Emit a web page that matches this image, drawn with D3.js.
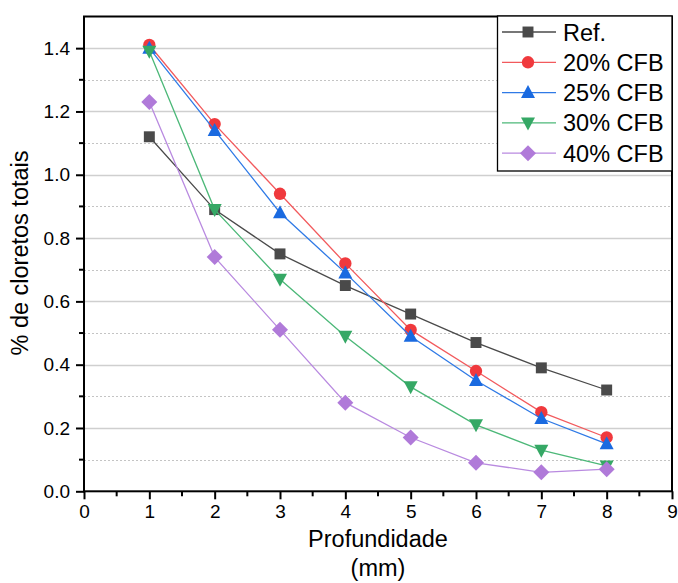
<!DOCTYPE html>
<html>
<head>
<meta charset="utf-8">
<script src="https://cdn.jsdelivr.net/npm/d3@7"></script>
<style>
  html, body { margin: 0; padding: 0; background: #fff; }
  svg text { font-family: "Liberation Sans", Arial, sans-serif; fill: #000; }
</style>
</head>
<body>
<svg id="chart" width="678" height="583"></svg>
<script>
// Depth (mm)
const depths = [1, 2, 3, 4, 5, 6, 7, 8];

// Total chloride content (%) per mix
const seriesNames = ["Ref.", "20% CFB", "25% CFB", "30% CFB", "40% CFB"];
const refValues   = [1.12, 0.89, 0.75, 0.65, 0.56, 0.47, 0.39, 0.32];
const cfb20Values = [1.41, 1.16, 0.94, 0.72, 0.51, 0.38, 0.25, 0.17];
const cfb25Values = [1.40, 1.14, 0.88, 0.69, 0.49, 0.35, 0.23, 0.15];
const cfb30Values = [1.39, 0.89, 0.67, 0.49, 0.33, 0.21, 0.13, 0.08];
const cfb40Values = [1.23, 0.74, 0.51, 0.28, 0.17, 0.09, 0.06, 0.07];

const xTicks = [0, 1, 2, 3, 4, 5, 6, 7, 8, 9];
const yTicks = [0.0, 0.2, 0.4, 0.6, 0.8, 1.0, 1.2, 1.4];

const styles = [
  { marker: "square",   fill: "#4a4a4a", line: "#4a4a4a" },
  { marker: "circle",   fill: "#f0393d", line: "#f25a5d" },
  { marker: "triangle", fill: "#1a6ae0", line: "#2f7ae6" },
  { marker: "triangleDown", fill: "#35a865", line: "#4cb878" },
  { marker: "diamond",  fill: "#b07ad9", line: "#b98ae0" }
];

const series = [refValues, cfb20Values, cfb25Values, cfb30Values, cfb40Values].map((vals, i) => ({
  name: seriesNames[i],
  style: styles[i],
  points: depths.map((d, j) => ({ x: d, y: vals[j] }))
}));

const svg = d3.select("#chart");
const plot = { left: 84, right: 672, top: 16.5, bottom: 491.3 };

const x = d3.scaleLinear().domain([0, 9]).range([plot.left, plot.right]);
const y = d3.scaleLinear().domain([0, 1.5]).range([plot.bottom, plot.top]);

// Horizontal grid: solid at major ticks, dotted at minor ticks
const minorY = d3.range(1, 15, 2).map(v => v / 10);
svg.append("g").selectAll("line.minor").data(minorY).join("line")
  .attr("x1", plot.left).attr("x2", plot.right)
  .attr("y1", d => Math.round(y(d)) + 0.5).attr("y2", d => Math.round(y(d)) + 0.5)
  .attr("stroke", "#c4c4c4").attr("stroke-width", 1).attr("stroke-dasharray", "2,2");
svg.append("g").selectAll("line.major").data(yTicks.filter(v => v > 0).concat([])).join("line")
  .attr("x1", plot.left).attr("x2", plot.right)
  .attr("y1", d => Math.round(y(d)) + 0.5).attr("y2", d => Math.round(y(d)) + 0.5)
  .attr("stroke", "#cfcfcf").attr("stroke-width", 1.3);

// Axes
const xAxis = d3.axisBottom(x).tickValues(xTicks).tickFormat(d3.format("d")).tickSize(8).tickPadding(5);
const yAxis = d3.axisLeft(y).tickValues(yTicks).tickFormat(d3.format(".1f")).tickSize(8).tickPadding(6);

const gx = svg.append("g").attr("transform", `translate(0,${plot.bottom})`).call(xAxis);
const gy = svg.append("g").attr("transform", `translate(${plot.left},0)`).call(yAxis);
[gx, gy].forEach(g => {
  g.select(".domain").remove();
  g.selectAll(".tick line").attr("stroke", "#000").attr("stroke-width", 2);
  g.selectAll(".tick text").attr("font-size", 19).attr("font-family", "Liberation Sans, Arial, sans-serif");
});

// Minor ticks
const minorX = d3.range(0.5, 9, 1);
svg.append("g").selectAll("line").data(minorX).join("line")
  .attr("x1", d => x(d)).attr("x2", d => x(d))
  .attr("y1", plot.bottom).attr("y2", plot.bottom + 5)
  .attr("stroke", "#000").attr("stroke-width", 2);
svg.append("g").selectAll("line").data(minorY).join("line")
  .attr("x1", plot.left - 5).attr("x2", plot.left)
  .attr("y1", d => y(d)).attr("y2", d => y(d))
  .attr("stroke", "#000").attr("stroke-width", 2);

// Frame
svg.append("rect")
  .attr("x", plot.left).attr("y", plot.top)
  .attr("width", plot.right - plot.left).attr("height", plot.bottom - plot.top)
  .attr("fill", "none").attr("stroke", "#000").attr("stroke-width", 2);

// Marker shapes
function markerPath(kind) {
  switch (kind) {
    case "square": return d3.symbol(d3.symbolSquare, 120)();
    case "circle": return d3.symbol(d3.symbolCircle, 120)();
    case "triangle": return "M0,-7.5L7,5.5L-7,5.5Z";
    case "triangleDown": return "M0,7.5L7,-5.5L-7,-5.5Z";
    case "diamond": return "M0,-8L8,0L0,8L-8,0Z";
  }
}

const line = d3.line().x(d => x(d.x)).y(d => y(d.y));

const layers = svg.append("g").selectAll("g").data(series).join("g");
layers.append("path")
  .attr("d", d => line(d.points))
  .attr("fill", "none")
  .attr("stroke", d => d.style.line)
  .attr("stroke-width", 1.3);
layers.each(function (s) {
  d3.select(this).selectAll("path.pt").data(s.points).join("path")
    .attr("class", "pt")
    .attr("d", markerPath(s.style.marker))
    .attr("transform", d => `translate(${x(d.x)},${y(d.y)})`)
    .attr("fill", s.style.fill);
});

// Legend
const legend = svg.append("g");
legend.append("rect")
  .attr("x", 497.5).attr("y", 16).attr("width", 174.5).attr("height", 155)
  .attr("fill", "#fff").attr("stroke", "#000").attr("stroke-width", 1.3);
const rows = legend.selectAll("g").data(series).join("g")
  .attr("transform", (d, i) => `translate(0,${32 + i * 30.3})`);
rows.append("line")
  .attr("x1", 502).attr("x2", 556).attr("y1", 0).attr("y2", 0)
  .attr("stroke", d => d.style.line).attr("stroke-width", 1.3);
rows.append("path")
  .attr("d", d => markerPath(d.style.marker))
  .attr("transform", "translate(528,0)")
  .attr("fill", d => d.style.fill);
rows.append("text")
  .attr("x", 563).attr("y", 8.5)
  .attr("font-size", 23.5)
  .text(d => d.name);

// Axis titles
svg.append("text")
  .attr("transform", "translate(28,253) rotate(-90)")
  .attr("text-anchor", "middle")
  .attr("font-size", 23.5)
  .text("% de cloretos totais");
svg.append("text")
  .attr("x", 378).attr("y", 547)
  .attr("text-anchor", "middle")
  .attr("font-size", 23.5)
  .text("Profundidade");
svg.append("text")
  .attr("x", 378).attr("y", 576)
  .attr("text-anchor", "middle")
  .attr("font-size", 23.5)
  .text("(mm)");
</script>
</body>
</html>
